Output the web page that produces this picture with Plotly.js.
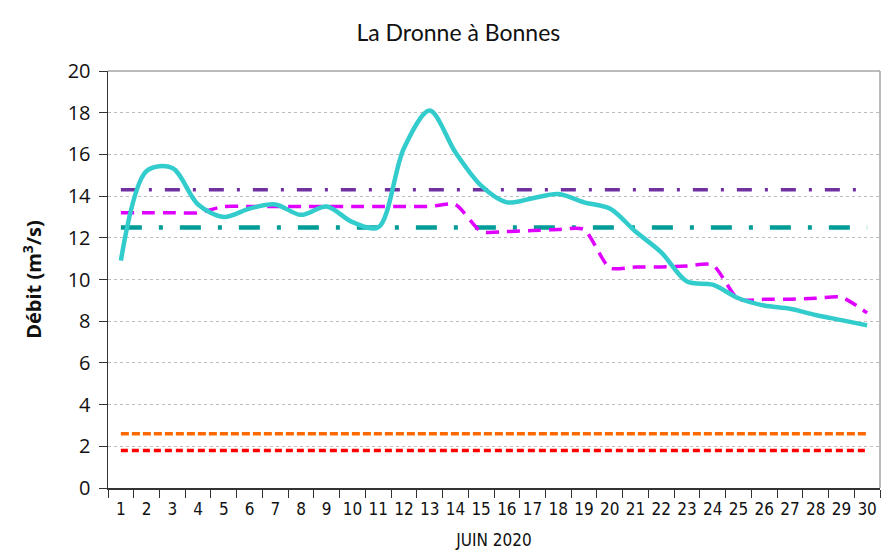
<!DOCTYPE html>
<html><head><meta charset="utf-8">
<script src="https://cdn.plot.ly/plotly-3.0.1.min.js"></script>
<style>html,body{margin:0;padding:0;background:#fff}#chart{width:890px;height:552px}</style>
</head><body><div id="chart"></div>
<script>
const days = ["1","2","3","4","5","6","7","8","9","10","11","12","13","14","15","16","17","18","19","20","21","22","23","24","25","26","27","28","29","30"];
const debit = [10.9,15.2,15.35,13.6,13.0,13.4,13.6,13.1,13.5,12.75,12.5,16.3,18.1,16.1,14.5,13.7,13.9,14.1,13.7,13.4,12.3,11.3,9.9,9.75,9.1,8.75,8.6,8.3,8.05,7.8];
const debitRef = [13.2,13.2,13.2,13.2,13.5,13.5,13.5,13.5,13.5,13.5,13.5,13.5,13.5,13.6,12.3,12.3,12.35,12.4,12.4,10.55,10.6,10.6,10.65,10.7,9.05,9.05,9.05,9.1,9.15,8.4];
const seuilPurple = 14.3;
const seuilTeal = 12.5;
const seuilOrange = 2.6;
const seuilRed = 1.8;
const yTicks = [0,2,4,6,8,10,12,14,16,18,20];

function flat(v){ return days.map(() => v); }

const traces = [
  {x: days, y: flat(seuilRed), mode:'lines', line:{color:'#FF0000', width:3.5, dash:'7px,4px'}},
  {x: days, y: flat(seuilOrange), mode:'lines', line:{color:'#FF6A00', width:3.5, dash:'8px,3px'}},
  {x: days, y: flat(seuilTeal), mode:'lines', line:{color:'#009C98', width:4.5, dash:'21px,17px,4px,17px'}},
  {x: days, y: flat(seuilPurple), mode:'lines', line:{color:'#7030A0', width:3.5, dash:'15px,13px,3px,13px'}},
  {x: days, y: debitRef, mode:'lines', line:{color:'#E000FF', width:3.5, dash:'13px,8px', shape:'spline', smoothing:0.6}},
  {x: days, y: debit, mode:'lines', line:{color:'#33CCCC', width:4.5, shape:'spline', smoothing:0.9}}
];

const layout = {
  width: 890, height: 552,
  margin: {l:108, r:10, t:71, b:64},
  paper_bgcolor:'#fff', plot_bgcolor:'#fff',
  showlegend:false,
  title: {text:'La Dronne à Bonnes', font:{family:'Lato, Open Sans, sans-serif', size:23, color:'#111'}, x:0.515, xanchor:'center', y:0.94, yanchor:'middle'},
  xaxis: {
    type:'category', range:[-0.5,29.5], tickson:'boundaries',
    ticks:'outside', ticklen:8, tickcolor:'#333', tickwidth:1,
    showline:true, linecolor:'#333', linewidth:1.5,
    showgrid:false, zeroline:false, ticklabelstandoff:5,
    tickfont:{family:'DejaVu Sans Condensed, Liberation Sans Narrow, sans-serif', size:17, color:'#111'},
    tickangle:0,
    title:{text:'JUIN 2020', font:{family:'DejaVu Sans Condensed, sans-serif', size:17, color:'#111'}, standoff:16}
  },
  yaxis: {
    range:[0,20], tickvals:yTicks, ticktext:yTicks.map(String),
    ticks:'outside', ticklen:8, tickcolor:'#333', tickwidth:1,
    showline:true, linecolor:'#333', linewidth:1.5,
    showgrid:true, gridcolor:'#BDBDBD', griddash:'dot', gridwidth:1,
    zeroline:false, ticklabelstandoff:4,
    tickfont:{family:'Open Sans, Lato, sans-serif', size:20, color:'#111'},
    title:{text:'<b>Débit (m<sup>3</sup>/s)</b>', font:{family:'Open Sans, sans-serif', size:20, color:'#111'}, standoff:20}
  },
  shapes: [
    {type:'line', xref:'paper', yref:'paper', x0:0, x1:1, y0:1, y1:1, line:{color:'#A6A6A6', width:1.5}},
    {type:'line', xref:'paper', yref:'paper', x0:1, x1:1, y0:0, y1:1, line:{color:'#A6A6A6', width:1.5}}
  ]
};

Plotly.newPlot('chart', traces, layout, {displayModeBar:false, staticPlot:true});
</script>
</body></html>
